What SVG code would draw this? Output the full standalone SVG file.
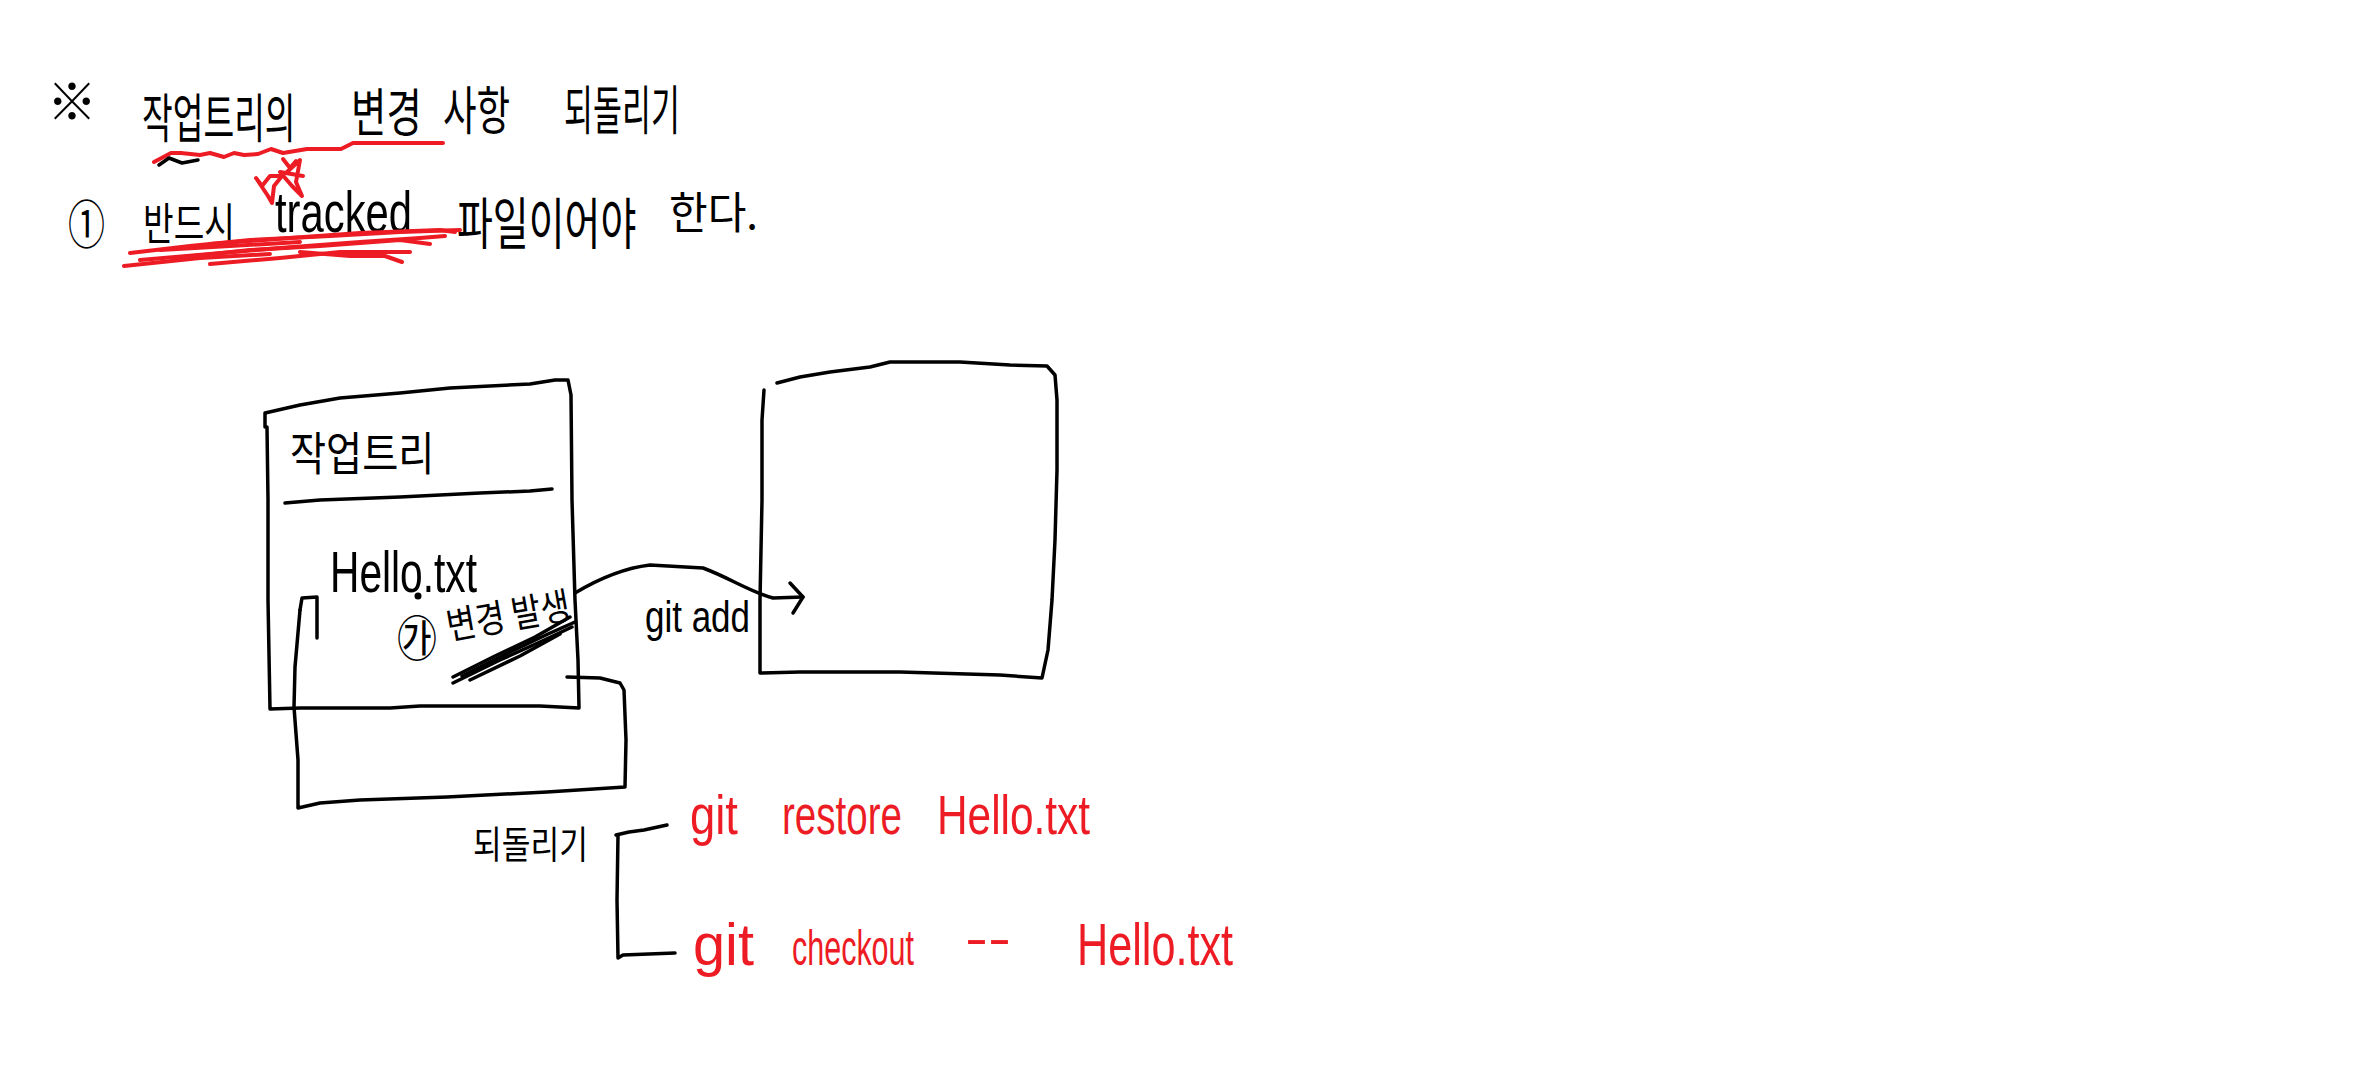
<svg xmlns="http://www.w3.org/2000/svg" width="2372" height="1070" viewBox="0 0 2372 1070">
<style>
.k{font-family:"Noto Sans CJK KR","Noto Sans",sans-serif;fill:#000}
.l{font-family:"Liberation Sans","Noto Sans",sans-serif;fill:#000}
.r{font-family:"Liberation Sans","Noto Sans",sans-serif;fill:#ed1c24}
.s{fill:none;stroke:#000;stroke-width:3.5;stroke-linecap:round;stroke-linejoin:round}
.rs{fill:none;stroke:#ed1c24;stroke-width:4;stroke-linecap:round;stroke-linejoin:round}
</style>
<rect width="2372" height="1070" fill="#fff"/>

<g id="title">
<text class="k" x="72" y="120" font-size="50" text-anchor="middle">※</text>
<text class="k" font-size="33.4" transform="translate(142 138) scale(1 1.6)">작업트리의</text>
<text class="k" font-size="38.5" transform="translate(351 132) scale(1 1.35)">변경</text>
<text class="k" font-size="36.5" transform="translate(443 130) scale(1 1.42)">사항</text>
<text class="k" font-size="31.5" transform="translate(564 130) scale(1 1.7)">되돌리기</text>
<path class="rs" d="M154 162 L171 153 L181 153 L200 155 L210 153 L224 157 L234 153 L244 155 L258 154 L271 149 L283 153 L307 149 L341 149 L353 143 L380 143 L443 143"/>
<path class="rs" d="M283 159 L290 168 L296 161"/>
<path class="s" d="M159 165 L169 158 L182 163 L198 160"/>
</g>

<g id="note1">
<text class="k" font-size="37" transform="translate(68 244) scale(1 1.4)">①</text>
<text class="k" font-size="33.3" transform="translate(143 240) scale(1 1.32)">반드시</text>
<text class="l" font-size="41.8" textLength="137" lengthAdjust="spacingAndGlyphs" transform="translate(275 232) scale(1 1.39)">tracked</text>
<text class="k" font-size="39" transform="translate(457 244) scale(1 1.44)">파일이어야</text>
<text class="k" font-size="39" textLength="89" lengthAdjust="spacingAndGlyphs" transform="translate(669 229) scale(1 1.13)">한다.</text>
<path class="rs" d="M256 178 L268 196 L272 203 L274 186 L282 176 L270 176 L262 186 L256 178 Z"/>
<path class="rs" d="M287 172 L300 160 L296 182 L302 196 L292 186 L280 172 L303 176"/>
<path class="rs" d="M130 253 L190 246 L250 240 L330 236 L400 232 L460 230"/>
<path class="rs" d="M140 260 L210 254 L280 248 L360 242 L420 238 L445 236"/>
<path class="rs" d="M210 264 L280 258 L340 252 L410 252"/>
<path class="rs" d="M210 244 L290 238 L360 233 L440 230 L455 232"/>
<path class="rs" d="M175 258 L250 250 L320 246 L400 240 L430 244"/>
<path class="rs" d="M300 252 L350 256 L385 256 L402 262"/>
<path class="rs" d="M160 250 L230 246 L300 242"/>
<path class="rs" d="M124 266 L200 258 L270 254"/>
</g>

<g id="worktree">
<path class="s" d="M265 427 L265 413 L300 405 L340 398 L400 393 L450 388 L530 384 L555 380 L568 380 L571 395 L572 500 L575 600 L578 660 L579 708 L540 706 L420 706 L390 708 L300 708 L270 709 L268 600 L268 500 L267 427"/>
<path class="s" d="M285 503 L320 500 L400 497 L480 493 L530 491 L552 489"/>
<text class="k" font-size="39.25" transform="translate(290 470) scale(1 1.17)">작업트리</text>
<text class="l" font-size="40.7" textLength="147" lengthAdjust="spacingAndGlyphs" transform="translate(330 592) scale(1 1.43)">Hello.txt</text>
<circle cx="418" cy="596" r="3.5" fill="#000"/>
<text class="k" font-size="40" transform="translate(397 656) scale(1 1.2)">㉮</text>
<text class="k" font-size="29.6" textLength="125" lengthAdjust="spacingAndGlyphs" transform="rotate(-10 449 640) translate(449 640) scale(1 1.28)">변경 발생</text>
<path class="s" d="M453 683 L500 660 L540 642 L572 627"/>
<path class="s" d="M453 677 L495 656 L535 637 L570 617"/>
<path class="s" d="M462 676 L510 652 L548 634 L575 622"/>
<path class="s" d="M470 680 L520 656 L560 634"/>
</g>

<g id="staging">
<path class="s" d="M777 383 L800 377 L830 372 L870 367 L890 362 L960 362 L1010 365 L1047 366 L1055 375 L1057 400 L1057 470 L1055 540 L1052 600 L1048 650 L1042 678 L1000 675 L900 672 L800 672 L760 673 L760 600 L762 500 L762 420 L764 390"/>
</g>

<g id="connectors">
<path class="s" d="M575 593 C600 578 625 568 650 565 L703 568 C730 578 750 592 773 598 L803 597"/>
<path class="s" d="M790 583 L803 597 L793 613"/>
<text class="l" font-size="35" textLength="105" lengthAdjust="spacingAndGlyphs" transform="translate(645 632) scale(1 1.26)">git add</text>
<path class="s" d="M300 610 L302 598 L317 597 L317 638"/>
<path class="s" d="M300 610 L295 667 L294 707 L298 760 L298 808 L320 803 L360 800 L447 797 L547 792 L625 787 L626 740 L624 690 L620 683 L600 678 L567 677"/>
<path class="s" d="M616 835 L629 832 L644 830 L667 825"/>
<path class="s" d="M618 835 L617 900 L618 958 L623 955 L675 953"/>
</g>

<g id="revert">
<text class="k" font-size="31.25" transform="translate(473 858) scale(1 1.2)">되돌리기</text>
<text class="r" font-size="45.5" textLength="48" lengthAdjust="spacingAndGlyphs" transform="translate(690 834) scale(1 1.23)">git</text>
<text class="r" font-size="38.6" textLength="120" lengthAdjust="spacingAndGlyphs" transform="translate(782 834) scale(1 1.45)">restore</text>
<text class="r" font-size="42.4" textLength="153" lengthAdjust="spacingAndGlyphs" transform="translate(937 834) scale(1 1.32)">Hello.txt</text>
<text class="r" font-size="55" textLength="61" lengthAdjust="spacingAndGlyphs" transform="translate(693 965) scale(1 1.09)">git</text>
<text class="r" font-size="30.5" textLength="122" lengthAdjust="spacingAndGlyphs" transform="translate(792 965) scale(1 1.64)">checkout</text>
<text class="r" font-size="50" textLength="46" lengthAdjust="spacingAndGlyphs" transform="translate(965 955)">--</text>
<text class="r" font-size="43.2" textLength="156" lengthAdjust="spacingAndGlyphs" transform="translate(1077 965) scale(1 1.39)">Hello.txt</text>
</g>
</svg>
